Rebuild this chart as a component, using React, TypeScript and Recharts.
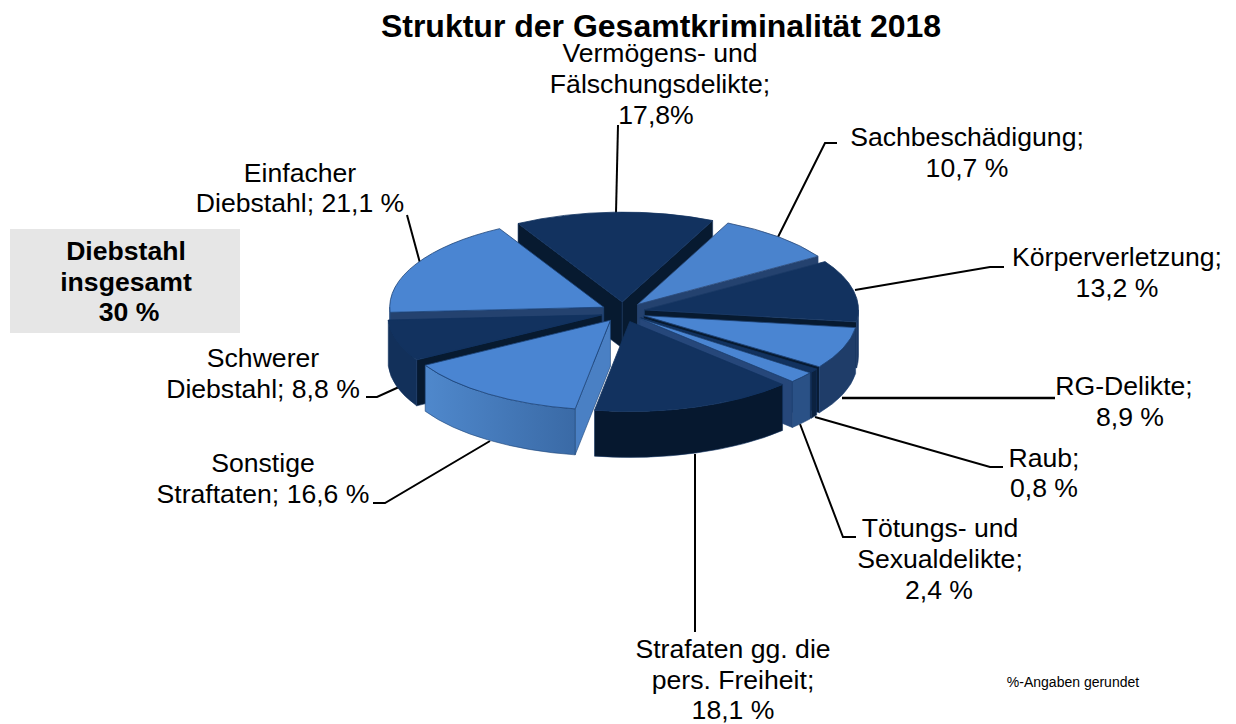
import React from "react";
import { PieChart, Pie } from "recharts";

// ---------- data ----------
const categories = [
  "Sachbeschädigung", "Körperverletzung", "RG-Delikte", "Raub", "Tötungs- und Sexualdelikte",
  "Strafaten gg. die pers. Freiheit", "Sonstige Straftaten", "Schwerer Diebstahl",
  "Einfacher Diebstahl", "Vermögens- und Fälschungsdelikte",
];
const shares = [10.7, 13.2, 8.9, 0.8, 2.4, 18.1, 16.6, 8.8, 21.1, 17.8];
const tableRows = categories.map((name, i) => ({ name, value: shares[i] }));

// ---------- styles ----------
const topColors = ["#4a83cd", "#12325f", "#4a85d2", "#12325f", "#4a85d2", "#12325f", "#4a85d2", "#12325f", "#4a85d2", "#12325f"];
const outerWallColors = ["#24426f", "#1c3a66", "#1f3d69", "#0b2240", "#2a5186", "#06182f", "url(#lightWall)", "#12305a", "#24426f", "#0a2038"];
const cutWallColors = ["#24426f", "#071a30", "#071a30", "#0a1f38", "#26477a", "#06182f", "#4a80c4", "#071a30", "#24426f", "#071a30"];
const edgeColors = ["#2c4a78", "#1b3a66", "#1f4274", "#12325f", "#1f4274", "#12325f", "#1d4478", "#12325f", "#1d4478", "#12325f"];
const paintOrder = [9, 0, 8, 1, 7, 2, 3, 4, 6, 5];

const SQUASH = 0.42;
const DEPTH = 46;
const EXPLODE_X = 22;
const EXPLODE_Y = 10;

const FONT = "'Liberation Sans', Arial, sans-serif";

type TextLine = [string, number, number];
const labelLines: TextLine[] = [
  ["Vermögens- und", 660, 62], ["Fälschungsdelikte;", 660, 93], ["17,8%", 656, 124],
  ["Sachbeschädigung;", 967, 146], ["10,7 %", 967, 177],
  ["Körperverletzung;", 1117, 266], ["13,2 %", 1117, 297],
  ["RG-Delikte;", 1124, 395], ["8,9 %", 1130, 426],
  ["Raub;", 1044, 467], ["0,8 %", 1044, 497],
  ["Tötungs- und", 940, 537], ["Sexualdelikte;", 940, 568], ["2,4 %", 939, 599],
  ["Strafaten gg. die", 733, 658], ["pers. Freiheit;", 733, 689], ["18,1 %", 733, 719],
  ["Sonstige", 263, 472], ["Straftaten; 16,6 %", 263, 503],
  ["Schwerer", 263, 367], ["Diebstahl; 8,8 %", 263, 398],
  ["Einfacher", 300, 182], ["Diebstahl; 21,1 %", 300, 212],
];
const boxLines: TextLine[] = [["Diebstahl", 126, 260], ["insgesamt", 126, 291], ["30 %", 129, 321]];
const leaders = [
  "618,125 616,213",
  "837,143 825,143 778,237",
  "1004,267 990,267 855,290",
  "1055,398 842,398",
  "1003,467 990,467 815,417",
  "856,537 843,537 800,424",
  "695,632 695,454",
  "373,503 385,503 490,441",
  "366,397 377,397 399,387",
  "407,215 420,263",
];

// ---------- elliptical slice drawn from the pie's own angles ----------
function Slice(props: any) {
  const { cx, cy, outerRadius, startAngle, endAngle, index, target } = props;
  if (index !== target) return null;
  const rx = outerRadius;
  const ry = outerRadius * SQUASH;
  const a0 = 90 - startAngle;
  const a1 = 90 - endAngle;
  const mid = (a0 + a1) / 2;
  const rad = (d: number) => (d * Math.PI) / 180;
  const tipX = cx + EXPLODE_X * Math.sin(rad(mid));
  const tipY = cy - EXPLODE_Y * Math.cos(rad(mid));
  const pt = (d: number) => [tipX + rx * Math.sin(rad(d)), tipY - ry * Math.cos(rad(d))];
  const [x0, y0] = pt(a0);
  const [x1, y1] = pt(a1);
  const large = a1 - a0 > 180 ? 1 : 0;
  const top = `M${tipX},${tipY} L${x0},${y0} A${rx},${ry} 0 ${large} 1 ${x1},${y1} Z`;
  const face = (x: number, y: number) =>
    `M${tipX},${tipY} L${x},${y} L${x},${y + DEPTH} L${tipX},${tipY + DEPTH} Z`;
  const faces: React.ReactNode[] = [];
  if (Math.sin(rad(a0)) < 0)
    faces.push(<path key="s" d={face(x0, y0)} fill={cutWallColors[index]} stroke={edgeColors[index]} strokeWidth={0.6} />);
  if (Math.sin(rad(a1)) > 0)
    faces.push(<path key="e" d={face(x1, y1)} fill={cutWallColors[index]} stroke={edgeColors[index]} strokeWidth={0.6} />);
  // outer wall: the arc part facing the viewer (90..270 degrees from the top)
  const w0 = Math.max(a0, 90);
  const w1 = Math.min(a1, 270);
  let wall: React.ReactNode = null;
  const w0b = Math.max(a0 + 360, 90);
  const w1b = Math.min(a1 + 360, 270);
  const [ws, we] = w1 > w0 ? [w0, w1] : [w0b, w1b];
  if (we > ws) {
    const [ax, ay] = pt(ws);
    const [bx, by] = pt(we);
    wall = (
      <path
        d={`M${ax},${ay} A${rx},${ry} 0 0 1 ${bx},${by} L${bx},${by + DEPTH} A${rx},${ry} 0 0 0 ${ax},${ay + DEPTH} Z`}
        fill={outerWallColors[index]}
        stroke={edgeColors[index]}
        strokeWidth={0.6}
      />
    );
  }
  return (
    <g>
      {faces}
      {wall}
      <path d={top} fill={topColors[index]} stroke={edgeColors[index]} strokeWidth={0.8} />
    </g>
  );
}

export default function App() {
  return (
    <div style={{ position: "absolute", left: 0, top: 0, width: 1236, height: 724, background: "#fff" }}>
      <PieChart width={1236} height={724} margin={{ top: 0, right: 0, bottom: 0, left: 0 }}>
        <defs>
          <linearGradient id="lightWall" x1="0" y1="0" x2="1" y2="0">
            <stop offset="0%" stopColor="#4f88cc" />
            <stop offset="100%" stopColor="#3a6aa6" />
          </linearGradient>
        </defs>
        <rect x={10} y={229} width={230} height={104} fill="#e6e6e6" />
        <text x={661} y={37} textAnchor="middle" fontFamily={FONT} fontSize={32} fontWeight="bold" fill="#000">
          Struktur der Gesamtkriminalität 2018
        </text>
        {leaders.map((points, i) => (
          <polyline key={i} points={points} fill="none" stroke="#000" strokeWidth={i === 3 ? 2.5 : 2} />
        ))}
        {paintOrder.map((target) => (
          <Pie
            key={target}
            data={tableRows}
            dataKey="value"
            nameKey="name"
            cx={623}
            cy={312}
            innerRadius={0}
            outerRadius={214}
            startAngle={65}
            endAngle={-295}
            isAnimationActive={false}
            shape={(p: any) => <Slice {...p} target={target} />}
          />
        ))}
        {labelLines.map(([t, x, y], i) => (
          <text key={i} x={x} y={y} textAnchor="middle" fontFamily={FONT} fontSize={26.6} fill="#000">
            {t}
          </text>
        ))}
        {boxLines.map(([t, x, y], i) => (
          <text key={i} x={x} y={y} textAnchor="middle" fontFamily={FONT} fontSize={26.6} fontWeight="bold" fill="#000">
            {t}
          </text>
        ))}
        <text x={1073} y={687} textAnchor="middle" fontFamily={FONT} fontSize={14} fill="#000">
          %-Angaben gerundet
        </text>
      </PieChart>
    </div>
  );
}
